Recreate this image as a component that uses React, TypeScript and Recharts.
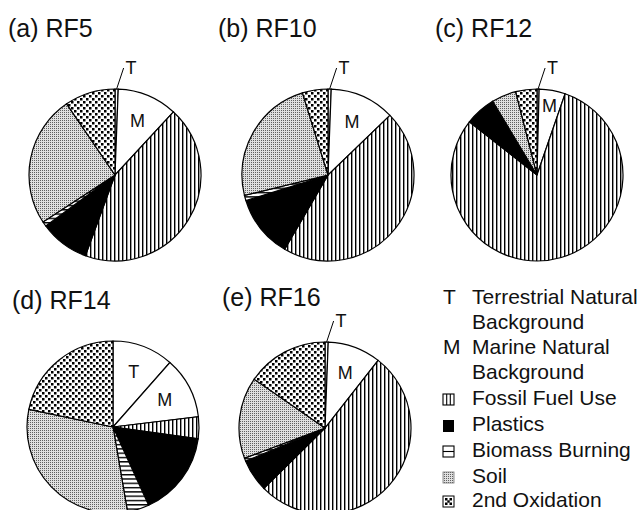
import { PieChart, Pie, Cell } from "recharts"

// source categories, clockwise from 12 o'clock
const sources = [
  "Terrestrial Natural Background",
  "Marine Natural Background",
  "Fossil Fuel Use",
  "Plastics",
  "Biomass Burning",
  "Soil",
  "2nd Oxidation",
]
const sourceKeys = ["T", "M", "", "", "", "", ""]

// contribution of each source (%)
const rf5 = [0.6, 11.3, 43.7, 9.3, 0.9, 24.7, 9.5]
const rf10 = [0.6, 12.2, 45.6, 11.8, 1.0, 24.0, 4.8]
const rf12 = [0.4, 4.9, 80.3, 5.7, 0.1, 4.6, 4.0]
const rf14 = [11.5, 11.6, 4.1, 16.0, 4.1, 31.0, 21.7]
const rf16 = [0.6, 10.0, 52.0, 6.1, 0.6, 15.3, 15.4]

const panelTitles = ["(a) RF5", "(b) RF10", "(c) RF12", "(d) RF14", "(e) RF16"]
const panelValues = [rf5, rf10, rf12, rf14, rf16]

const legendText = [
  ["Terrestrial Natural", "Background"],
  ["Marine Natural", "Background"],
  ["Fossil Fuel Use"],
  ["Plastics"],
  ["Biomass Burning"],
  ["Soil"],
  ["2nd Oxidation"],
]

// layout
const FONT = "'Liberation Sans', Arial, Helvetica, sans-serif"
const R = 86
const BOX = 240
const centers = [
  [110, 170],
  [323, 170],
  [532, 170],
  [108, 422],
  [320, 423],
]
const titleAt = [
  [8, 37],
  [218, 37],
  [435, 37],
  [12, 309],
  [222, 306],
]
const legendBase = [304, 354, 405, 431, 457, 483, 507]

const fills = ["#fff", "#fff", "url(#fossilFill)", "#000", "url(#biomassFill)", "url(#soilFill)", "url(#oxidFill)"]

const RAD = Math.PI / 180

function sliceLabel(props: any) {
  const { cx, cy, midAngle, outerRadius, percent, index } = props
  const key = sourceKeys[index]
  if (!key) return <g />
  const cos = Math.cos(-midAngle * RAD)
  const sin = Math.sin(-midAngle * RAD)
  if (percent < 0.02) {
    // thin slice: label outside with a leader line
    const sx = cx + outerRadius * cos
    const sy = cy + outerRadius * sin
    return (
      <g>
        <line x1={sx} y1={sy} x2={sx + 7} y2={sy - 21} stroke="#000" strokeWidth={1} />
        <text x={sx + 9} y={sy - 15} fontSize={18} fontFamily={FONT} fill="#111">
          {key}
        </text>
      </g>
    )
  }
  const f = percent * 360 < 25 ? 0.82 : 0.68
  return (
    <text
      x={cx + outerRadius * f * cos}
      y={cy + outerRadius * f * sin}
      textAnchor="middle"
      dominantBaseline="central"
      fontSize={18}
      fontFamily={FONT}
      fill="#111"
    >
      {key}
    </text>
  )
}

function Patterns() {
  return (
    <svg width={0} height={0} style={{ position: "absolute" }}>
      <defs>
        <pattern id="fossilFill" width={4} height={4} patternUnits="userSpaceOnUse">
          <rect width={4} height={4} fill="#fff" />
          <rect x={0} width={1.4} height={4} fill="#000" />
        </pattern>
        <pattern id="biomassFill" width={4.3} height={4.3} patternUnits="userSpaceOnUse">
          <rect width={4.3} height={4.3} fill="#fff" />
          <rect y={0} width={4.3} height={1.4} fill="#000" />
        </pattern>
        <pattern id="soilFill" width={2} height={2} patternUnits="userSpaceOnUse">
          <rect width={2} height={2} fill="#e0e0e0" />
          <rect width={1} height={1} fill="#606060" />
        </pattern>
        <pattern id="oxidFill" width={6} height={6} patternUnits="userSpaceOnUse">
          <rect width={6} height={6} fill="#fff" />
          <rect x={0} y={0} width={2.5} height={2.5} fill="#000" />
          <rect x={3} y={3} width={2.5} height={2.5} fill="#000" />
        </pattern>
      </defs>
    </svg>
  )
}

function Panel({ values, center }: { values: number[]; center: number[] }) {
  const data = values.map((v, i) => ({ name: sources[i], value: v }))
  return (
    <div style={{ position: "absolute", left: center[0] - BOX / 2, top: center[1] - BOX / 2 }}>
      <PieChart width={BOX} height={BOX}>
        <Pie
          data={data}
          dataKey="value"
          cx={BOX / 2}
          cy={BOX / 2}
          outerRadius={R}
          startAngle={90}
          endAngle={-270}
          stroke="#000"
          strokeWidth={1.2}
          label={sliceLabel}
          labelLine={false}
          isAnimationActive={false}
        >
          {data.map((d, i) => (
            <Cell key={d.name} fill={fills[i]} />
          ))}
        </Pie>
      </PieChart>
    </div>
  )
}

function LegendIcon({ i, y }: { i: number; y: number }) {
  const x = 443
  const top = y - 11
  if (i === 2)
    return (
      <g stroke="#000" strokeWidth={1.1} fill="#fff">
        <rect x={x} y={top} width={11} height={11} />
        <line x1={x + 3.7} y1={top} x2={x + 3.7} y2={top + 11} />
        <line x1={x + 7.3} y1={top} x2={x + 7.3} y2={top + 11} />
      </g>
    )
  if (i === 3) return <rect x={x} y={top} width={11} height={12} fill="#000" />
  if (i === 4)
    return (
      <g stroke="#000" strokeWidth={1.1} fill="#fff">
        <rect x={x} y={top} width={11} height={11} />
        <line x1={x} y1={top + 5.5} x2={x + 11} y2={top + 5.5} />
      </g>
    )
  if (i === 5) return <rect x={x} y={top} width={11} height={11} fill="url(#soilFill)" stroke="#777" strokeWidth={0.8} />
  return (
    <g>
      <rect x={x} y={top} width={11} height={11} fill="#fff" stroke="#000" strokeWidth={1} />
      <rect x={x + 2} y={top + 2} width={2.5} height={2.5} fill="#000" />
      <rect x={x + 6.5} y={top + 2} width={2.5} height={2.5} fill="#000" />
      <rect x={x + 2} y={top + 6.5} width={2.5} height={2.5} fill="#000" />
      <rect x={x + 6.5} y={top + 6.5} width={2.5} height={2.5} fill="#000" />
      <rect x={x + 4.3} y={top + 4.3} width={2.4} height={2.4} fill="#000" />
    </g>
  )
}

function Overlay() {
  return (
    <svg width={639} height={510} style={{ position: "absolute", left: 0, top: 0, pointerEvents: "none" }}>
      {panelTitles.map((t, i) => (
        <text key={t} x={titleAt[i][0]} y={titleAt[i][1]} fontSize={25} fontFamily={FONT} fill="#111">
          {t}
        </text>
      ))}
      {legendText.map((lines, i) => (
        <g key={i}>
          {sourceKeys[i] ? (
            <text x={443} y={legendBase[i]} fontSize={21} fontFamily={FONT} fill="#111">
              {sourceKeys[i]}
            </text>
          ) : (
            <LegendIcon i={i} y={legendBase[i]} />
          )}
          {lines.map((ln, j) => (
            <text key={ln + j} x={472} y={legendBase[i] + j * 25} fontSize={21} fontFamily={FONT} fill="#111">
              {ln}
            </text>
          ))}
        </g>
      ))}
    </svg>
  )
}

export default function App() {
  return (
    <div style={{ position: "absolute", left: 0, top: 0, width: 639, height: 510, background: "#fff", overflow: "hidden" }}>
      <Patterns />
      {panelValues.map((v, i) => (
        <Panel key={panelTitles[i]} values={v} center={centers[i]} />
      ))}
      <Overlay />
    </div>
  )
}
